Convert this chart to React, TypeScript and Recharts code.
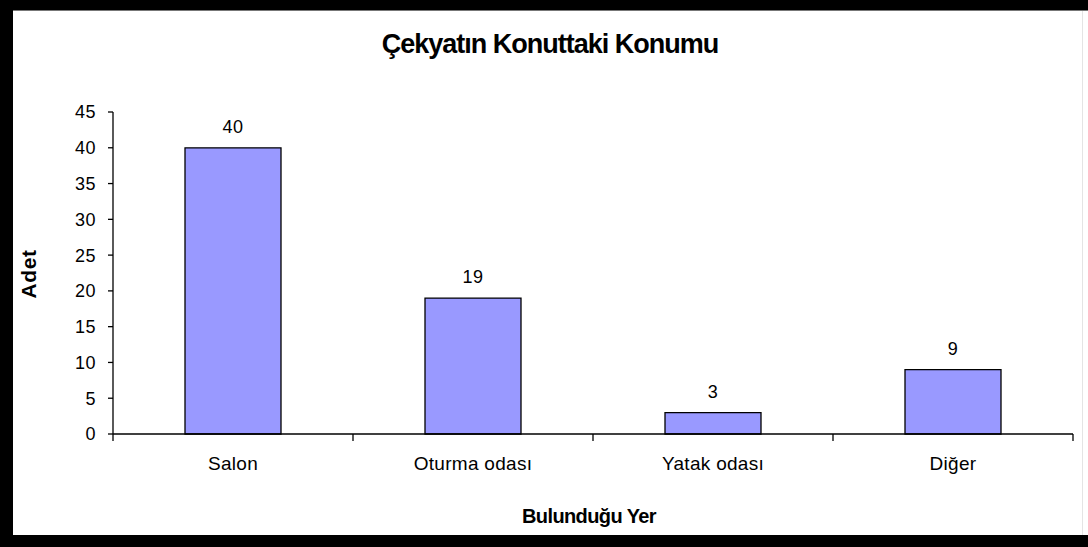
import { BarChart, Bar, XAxis, YAxis, LabelList } from "recharts";

const categories = ["Salon", "Oturma odası", "Yatak odası", "Diğer"];
const counts = [40, 19, 3, 9];
const yTicks = [0, 5, 10, 15, 20, 25, 30, 35, 40, 45];

const data = categories.map((name, i) => ({ name, value: counts[i] }));

const FONT = '"Liberation Sans", Arial, sans-serif';

function CategoryTick(props: any) {
  const { x, y, payload, index } = props;
  const half = payload?.offset || 120;
  const last = index === categories.length - 1;
  return (
    <g>
      <line x1={x - half} y1={y} x2={x - half} y2={y + 7} stroke="#000" strokeWidth={1.3} />
      {last && (
        <line x1={x + half} y1={y} x2={x + half} y2={y + 7} stroke="#000" strokeWidth={1.3} />
      )}
      <text
        x={x}
        y={y + 23}
        dy="0.71em"
        textAnchor="middle"
        fill="#000"
        fontSize={19}
        letterSpacing={0.3}
        fontFamily={FONT}
      >
        {payload.value}
      </text>
    </g>
  );
}

export default function App() {
  return (
    <div
      style={{
        position: "fixed",
        left: 0,
        top: 0,
        width: 1088,
        height: 547,
        background: "#fff",
        overflow: "hidden",
      }}
    >
      <BarChart
        width={1088}
        height={547}
        data={data}
        margin={{ top: 112, right: 15, left: 13, bottom: 83 }}
        barCategoryGap="30%"
      >
        <XAxis
          dataKey="name"
          height={30}
          tickLine={false}
          tickSize={0}
          tickMargin={0}
          axisLine={{ stroke: "#000", strokeWidth: 1.3 }}
          tick={<CategoryTick />}
          interval={0}
        />
        <YAxis
          width={100}
          domain={[0, 45]}
          ticks={yTicks}
          interval={0}
          tickSize={5}
          tickMargin={12}
          axisLine={{ stroke: "#000", strokeWidth: 1.3 }}
          tickLine={{ stroke: "#000", strokeWidth: 1.3 }}
          tick={{ fill: "#000", fontSize: 18, fontFamily: FONT, letterSpacing: 0.5 }}
        />
        <Bar
          dataKey="value"
          fill="#9999ff"
          stroke="#000"
          strokeWidth={1.3}
          isAnimationActive={false}
        >
          <LabelList
            dataKey="value"
            position="top"
            offset={15}
            fill="#000"
            fontSize={18}
            letterSpacing={0.5}
            fontFamily={FONT}
          />
        </Bar>
      </BarChart>

      <svg
        width={1088}
        height={547}
        style={{ position: "absolute", left: 0, top: 0, pointerEvents: "none" }}
      >
        <text
          x={550}
          y={53}
          textAnchor="middle"
          fontFamily={FONT}
          fontWeight="bold"
          fontSize={27}
          letterSpacing={-1}
          fill="#000"
        >
          Çekyatın Konuttaki Konumu
        </text>
        <text
          x={589}
          y={523}
          textAnchor="middle"
          fontFamily={FONT}
          fontWeight="bold"
          fontSize={20}
          letterSpacing={-0.6}
          fill="#000"
        >
          Bulunduğu Yer
        </text>
        <text
          transform="translate(36,274) rotate(-90)"
          textAnchor="middle"
          fontFamily={FONT}
          fontWeight="bold"
          fontSize={21}
          letterSpacing={0.6}
          fill="#000"
        >
          Adet
        </text>
        {/* frame */}
        <rect x={0} y={0} width={1088} height={10} fill="#000" />
        <rect x={0} y={10} width={1088} height={1} fill="#777" />
        <rect x={0} y={0} width={13} height={547} fill="#000" />
        <rect x={0} y={535} width={1088} height={12} fill="#000" />
        <rect x={1082} y={11} width={1} height={524} fill="#e4e4e4" />
      </svg>
    </div>
  );
}
